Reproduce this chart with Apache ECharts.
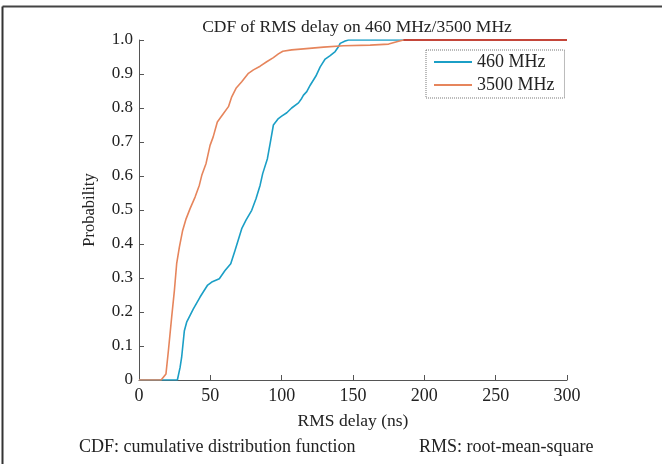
<!DOCTYPE html>
<html>
<head>
<meta charset="utf-8">
<script src="https://cdn.jsdelivr.net/npm/echarts@6/dist/echarts.min.js"></script>
<style>
  html, body { margin: 0; padding: 0; background: #fff; }
  #chart { width: 662px; height: 464px; }
</style>
</head>
<body>
<div id="chart"></div>
<script>
// RMS delay (ns) / probability
var delay460 = [0, 26.9, 28.8, 29.9, 31.8, 33.4, 38.1, 42.8, 47.9, 51, 56.3, 60.3, 64.3, 67.3, 72, 75, 79, 82, 84.9, 86.7, 90, 91.9, 94.2, 97.7, 100, 103.6, 107, 111.8, 114, 115.3, 117.6, 120, 124, 127, 130.5, 134, 137.5, 139.8, 141, 144.5, 146.8, 300];
var prob460 = [0, 0, 0.037, 0.067, 0.145, 0.17, 0.209, 0.244, 0.278, 0.288, 0.298, 0.322, 0.342, 0.381, 0.445, 0.47, 0.499, 0.533, 0.573, 0.607, 0.651, 0.695, 0.75, 0.769, 0.776, 0.786, 0.8, 0.815, 0.828, 0.838, 0.848, 0.867, 0.894, 0.921, 0.944, 0.954, 0.966, 0.98, 0.99, 0.997, 1, 1];

var delay3500 = [0, 15.5, 18.9, 20.6, 22.9, 24.8, 26.4, 28.3, 30.6, 33, 35.8, 39.3, 42.3, 44, 47, 49.8, 52, 54.9, 59.2, 62.7, 65, 68, 72, 76.7, 80.2, 84.9, 89.5, 94.2, 97.7, 100.8, 107, 115.3, 129.3, 143.3, 162, 175, 180.7, 185.4, 300];
var prob3500 = [0, 0, 0.018, 0.086, 0.185, 0.263, 0.342, 0.391, 0.44, 0.474, 0.504, 0.538, 0.573, 0.602, 0.637, 0.69, 0.715, 0.759, 0.784, 0.804, 0.833, 0.858, 0.877, 0.902, 0.912, 0.923, 0.936, 0.948, 0.959, 0.967, 0.971, 0.974, 0.979, 0.983, 0.985, 0.988, 0.995, 1, 1];

var seriesNames = ['460 MHz', '3500 MHz'];
var xTicks = [0, 50, 100, 150, 200, 250, 300];
var yTicks = [0, 0.1, 0.2, 0.3, 0.4, 0.5, 0.6, 0.7, 0.8, 0.9, 1.0];

var blue = '#1b9fc6';
var orange = '#e6855c';
var overlap = '#c4463a';   // where both curves sit on 1.0
var serif = 'Liberation Serif';

function pairs(xs, ys) {
    var out = [];
    for (var i = 0; i < xs.length; i++) out.push([xs[i], ys[i]]);
    return out;
}

// part of the 3500 MHz curve that lies on top of the 460 MHz one at 1.0
function topTail(xs, ys) {
    var out = [];
    for (var i = 0; i < xs.length; i++) {
        if (ys[i] >= 1) out.push([xs[i], ys[i]]);
    }
    return out;
}

var myChart = echarts.init(document.getElementById('chart'));
var option = {
    backgroundColor: '#fff',
    animation: false,
    title: {
        text: 'CDF of RMS delay on 460 MHz/3500 MHz',
        left: 352,
        textAlign: 'center',
        top: 13,
        textStyle: { fontFamily: serif, fontSize: 17.5, fontWeight: 'normal', color: '#222' }
    },
    legend: {
        orient: 'vertical',
        left: 426,
        top: 50,
        padding: [2, 10, 3, 8],
        itemGap: 3,
        itemWidth: 38,
        itemHeight: 2,
        icon: 'rect',
        borderColor: '#777',
        borderWidth: 1,
        borderType: 'dotted',
        textStyle: { fontFamily: serif, fontSize: 18, color: '#222', lineHeight: 20 },
        data: [
            { name: seriesNames[0], itemStyle: { color: blue } },
            { name: seriesNames[1], itemStyle: { color: orange } }
        ]
    },
    grid: { left: 139, right: 95, top: 40, bottom: 84 },
    xAxis: {
        type: 'value',
        min: xTicks[0],
        max: xTicks[xTicks.length - 1],
        interval: 50,
        name: 'RMS delay (ns)',
        nameLocation: 'middle',
        nameGap: 32,
        nameTextStyle: { fontFamily: serif, fontSize: 17.5, color: '#222' },
        axisLine: { lineStyle: { color: '#555' } },
        axisTick: { inside: true, length: 5, lineStyle: { color: '#555' } },
        axisLabel: { fontFamily: serif, fontSize: 18, color: '#222', margin: 7 },
        splitLine: { show: false }
    },
    yAxis: {
        type: 'value',
        min: yTicks[0],
        max: yTicks[yTicks.length - 1],
        interval: 0.1,
        name: 'Probability',
        nameLocation: 'middle',
        nameGap: 41,
        nameRotate: 90,
        nameTextStyle: { fontFamily: serif, fontSize: 16.5, color: '#222' },
        axisLine: { show: true, lineStyle: { color: '#555' } },
        axisTick: { show: true, inside: true, length: 5, lineStyle: { color: '#555' } },
        axisLabel: {
            fontFamily: serif, fontSize: 17, color: '#222', margin: 6,
            formatter: function (v) { return v === 0 ? '0' : v.toFixed(1); }
        },
        splitLine: { show: false }
    },
    series: [{
        name: seriesNames[0],
        type: 'line',
        data: pairs(delay460, prob460),
        showSymbol: false,
        color: blue,
        lineStyle: { color: blue, width: 1.6 }
    }, {
        name: seriesNames[1],
        type: 'line',
        data: pairs(delay3500, prob3500),
        showSymbol: false,
        color: orange,
        lineStyle: { color: orange, width: 1.6 }
    }, {
        name: 'overlap',
        type: 'line',
        data: topTail(delay3500, prob3500),
        showSymbol: false,
        color: overlap,
        lineStyle: { color: overlap, width: 1.8 }
    }],
    graphic: [
        { type: 'line', shape: { x1: 2.5, y1: 6.5, x2: 662, y2: 6.5 }, style: { stroke: '#444', lineWidth: 2 } },
        { type: 'line', shape: { x1: 2.5, y1: 6.5, x2: 2.5, y2: 464 }, style: { stroke: '#333', lineWidth: 2 } },
        { type: 'text', left: 79, top: 438, style: { text: 'CDF: cumulative distribution function', font: '18px "Liberation Serif"', fill: '#222' } },
        { type: 'text', left: 419, top: 438, style: { text: 'RMS: root-mean-square', font: '18px "Liberation Serif"', fill: '#222' } }
    ]
};
myChart.setOption(option);
window.addEventListener('resize', function () {
    myChart.resize();
});
</script>
</body>
</html>
